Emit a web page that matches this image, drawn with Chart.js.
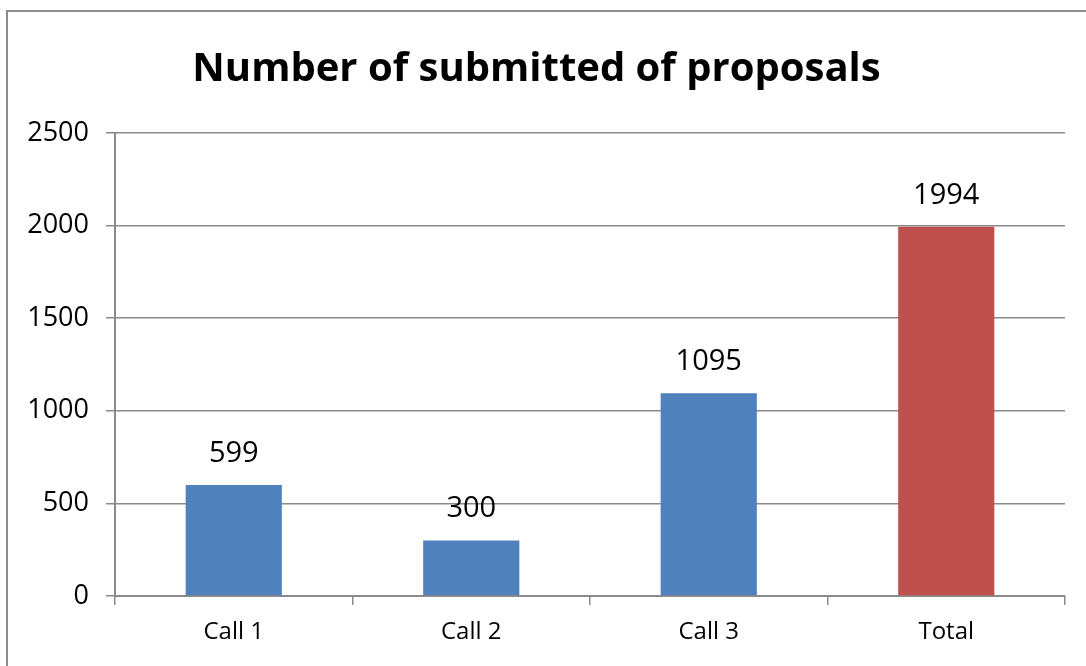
<!DOCTYPE html>
<html>
<head>
<meta charset="utf-8">
<script src="https://cdn.jsdelivr.net/npm/chart.js@4/dist/chart.umd.min.js"></script>
<style>
  html, body { margin: 0; padding: 0; background: #fff; overflow: hidden; }
  #wrap { position: relative; width: 1086px; height: 666px; }
  #frame { position: absolute; left: 6px; top: 10px; width: 1100px; height: 700px; border: 2px solid #8c8c8c; }
  #chart { position: absolute; left: 0; top: 0; }
</style>
</head>
<body>
<div id="wrap">
  <div id="frame"></div>
  <canvas id="chart" width="1086" height="666"></canvas>
</div>
<script>
// --- data ---
const categories = ['Call 1', 'Call 2', 'Call 3', 'Total'];
const proposals = [599, 300, 1095, 1994];
const barColors = ['#4f81bd', '#4f81bd', '#4f81bd', '#c0504d'];

const FONT = '"Open Sans", Lato, sans-serif';

// value labels above each bar
const valueLabels = {
    id: 'valueLabels',
    afterDatasetsDraw(chart) {
        const ctx = chart.ctx;
        const meta = chart.getDatasetMeta(0);
        ctx.save();
        ctx.font = '29px ' + FONT;
        ctx.fillStyle = '#000';
        ctx.textAlign = 'center';
        ctx.textBaseline = 'alphabetic';
        meta.data.forEach((bar, i) => {
            ctx.fillText(String(proposals[i]), bar.x, bar.y - 23);
        });
        ctx.restore();
    }
};

const ctx = document.getElementById('chart').getContext('2d');
const chart = new Chart(ctx, {
    type: 'bar',
    data: {
        labels: categories,
        datasets: [{
            data: proposals,
            backgroundColor: barColors,
            barPercentage: 0.45,
            categoryPercentage: 0.9
        }]
    },
    options: {
        responsive: false,
        animation: false,
        layout: { padding: { left: 8, right: 21, top: 0, bottom: 0 } },
        plugins: {
            legend: { display: false },
            tooltip: { enabled: false },
            title: {
                display: true,
                text: 'Number of submitted of proposals',
                color: '#000',
                font: { family: FONT, size: 40, weight: 'bold' },
                padding: { top: 46, bottom: 39 }
            }
        },
        scales: {
            x: {
                grid: { drawOnChartArea: false, offset: true, tickLength: 9, color: '#8a8a8a', lineWidth: 1.5 },
                border: { color: '#8a8a8a', width: 2 },
                ticks: { color: '#000', font: { family: FONT, size: 24 }, padding: 13 },
                afterFit(scale) { scale.height = 70; }
            },
            y: {
                min: 0,
                max: 2500,
                ticks: {
                    stepSize: 500,
                    color: '#000',
                    font: { family: FONT, size: 27 },
                    padding: 17,
                    callback: (v) => String(v)
                },
                grid: { tickLength: 9, color: '#8a8a8a', lineWidth: 1.5 },
                border: { color: '#8a8a8a', width: 2 },
                afterFit(scale) { scale.width = 107; }
            }
        }
    },
    plugins: [valueLabels]
});
</script>
</body>
</html>
